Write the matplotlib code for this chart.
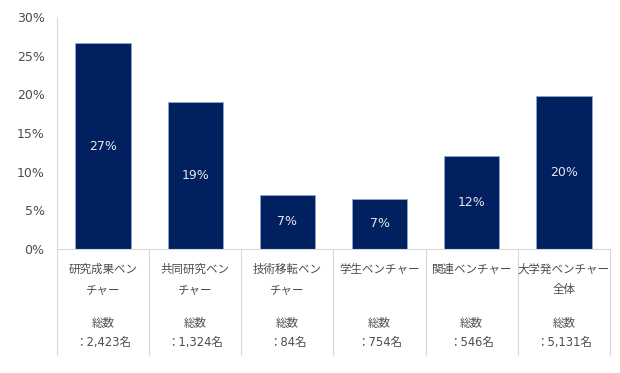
import matplotlib
matplotlib.use("Agg")
import matplotlib.pyplot as plt
from matplotlib.lines import Line2D
import matplotlib.transforms as mtransforms

plt.rcParams['font.family'] = ['DejaVu Sans', 'Noto Sans CJK JP']

# Data
name_line1 = ["研究成果ベン", "共同研究ベン", "技術移転ベン", "学生ベンチャー", "関連ベンチャー", "大学発ベンチャー"]
name_line2 = ["チャー", "チャー", "チャー", "", "", "全体"]
totals = ["：2,423名", "：1,324名", "：84名", "：754名", "：546名", "：5,131名"]
values = [26.6, 19.0, 7.0, 6.5, 12.0, 19.8]
value_labels = ["27%", "19%", "7%", "7%", "12%", "20%"]
yticks = [0, 5, 10, 15, 20, 25, 30]
ytick_labels = ["0%", "5%", "10%", "15%", "20%", "25%", "30%"]

text_color = "#4D4D4D"
bar_color = "#002060"
grid_color = "#D9D9D9"

fig = plt.figure(figsize=(6.2, 3.73), dpi=100)
ax = fig.add_axes([57/620, 1-249/373, (610-57)/620, (249-17)/373])

x = list(range(len(values)))
ax.bar(x, values, width=0.6, color=bar_color, edgecolor="#8FA6CF", linewidth=0.6)
ax.set_xlim(-0.5, len(values) - 0.5)
ax.set_ylim(0, 30)
ax.set_yticks(yticks)
ax.set_yticklabels(ytick_labels, fontsize=9, color=text_color)
ax.tick_params(axis='y', length=0, pad=9)
ax.set_xticks([])

for s in ["top", "right"]:
    ax.spines[s].set_visible(False)
for s in ["left", "bottom"]:
    ax.spines[s].set_color(grid_color)
    ax.spines[s].set_linewidth(0.8)

for xi, v, lab in zip(x, values, value_labels):
    ax.text(xi, v / 2, lab, ha="center", va="center", fontsize=9, color="#E8E8E8")

# category separators extending below axis
trans = mtransforms.blended_transform_factory(ax.transData, ax.transAxes)
h = 232
for i in range(len(values) + 1):
    ax.add_line(Line2D([i - 0.5, i - 0.5], [0, -(355 - 249) / h], transform=trans,
                       color=grid_color, linewidth=0.8, clip_on=False))

def ypos(py):
    return -(py - 249) / h

for xi in x:
    kw = dict(transform=trans, ha="center", va="center", fontsize=8.3, color=text_color,
              family=['Noto Sans CJK JP', 'DejaVu Sans'])
    ax.text(xi, ypos(269), name_line1[xi], **kw)
    if name_line2[xi]:
        ax.text(xi, ypos(290), name_line2[xi], **kw)
    ax.text(xi, ypos(323), "総数", **kw)
    kw2 = dict(kw)
    kw2["family"] = ['DejaVu Sans', 'Noto Sans CJK JP']
    kw2["fontsize"] = 8.3
    ax.text(xi, ypos(342), totals[xi], **kw2)

fig.savefig("out.png", dpi=100)
